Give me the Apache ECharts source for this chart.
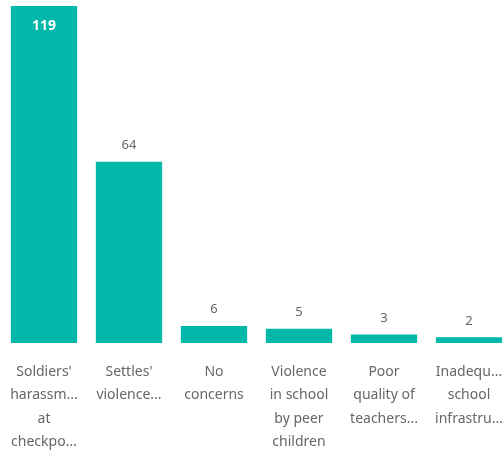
<!DOCTYPE html>
<html><head><meta charset="utf-8">
<script src="https://cdn.jsdelivr.net/npm/echarts@6/dist/echarts.min.js"></script>
<style>html,body{margin:0;padding:0;background:#fff}#c{width:504px;height:450px}</style>
</head><body><div id="c"></div>
<script>
const categories = [
  "Soldiers'\nharassm...\nat\ncheckpo...",
  "Settles'\nviolence...",
  "No\nconcerns",
  "Violence\nin school\nby peer\nchildren",
  "Poor\nquality of\nteachers...",
  "Inadequ...\nschool\ninfrastru..."
];
const values = [119, 64, 6, 5, 3, 2];

const chart = echarts.init(document.getElementById('c'));
chart.setOption({
  animation: false,
  grid: {left: 1.5, top: 6, width: 510, bottom: 107, outerBoundsMode: 'none', containLabel: false},
  xAxis: {
    type: 'category', data: categories,
    axisLine: {show: false}, axisTick: {show: false},
    axisLabel: {interval: 0, margin: 17, color: '#666', fontFamily: 'Noto Sans', fontSize: 14, lineHeight: 23.5}
  },
  yAxis: {type: 'value', min: 0, max: 119, show: false, splitLine: {show: false}},
  series: [{
    type: 'bar', data: values.map((v, i) => i === 0 ? {value: v, label: {position: 'insideTop', color: '#fff', fontWeight: 'bold', fontSize: 14, distance: 13}} : v),
    barCategoryGap: '22%',
    itemStyle: {color: '#01B8AA'},
    label: {show: true, position: 'top', distance: 10, color: '#666', fontFamily: 'Noto Sans', fontSize: 13}
  }]
});
</script></body></html>
